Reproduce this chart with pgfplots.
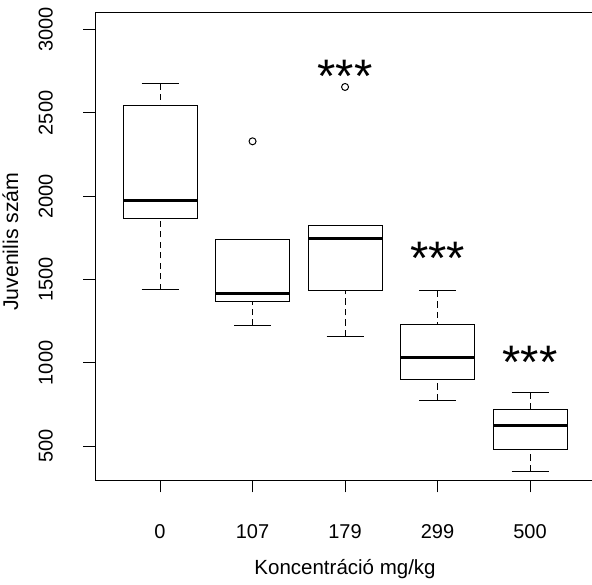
\documentclass[border=0pt]{standalone}
\usepackage{fontspec}
\setmainfont{Liberation Sans}
\usepackage{pgfplots}
\pgfplotsset{compat=1.18}
\usepgfplotslibrary{statistics}

\begin{document}
\begin{tikzpicture}
\begin{axis}[
  at={(95.3bp,104.7bp)}, anchor=south west,
  width=499.5bp, height=468bp, scale only axis,
  xmin=0.3, xmax=5.7, ymin=296, ymax=3104,
  xtick={1,2,3,4,5}, xticklabels={0,107,179,299,500},
  ytick={500,1000,...,3000},
  /pgf/number format/assume math mode=true,
  /pgf/number format/1000 sep={},
  tick label style={font=\fontsize{20bp}{24bp}\selectfont, black},
  label style={font=\fontsize{20.5bp}{24bp}\selectfont},
  xticklabel style={anchor=center, yshift=-39bp},
  yticklabel style={xshift=-37.5bp, rotate=90, anchor=center},
  xlabel={Koncentráció mg/kg},
  ylabel={Juvenilis szám},
  xlabel style={at={(axis description cs:0.5,-0.1895)}, anchor=center},
  ylabel style={at={(axis description cs:-0.1698,0.5098)}, anchor=center,
    font=\fontsize{21.3bp}{24bp}\selectfont},
  axis line style={line width=1bp},
  tick align=outside, major tick length=12bp,
  tick style={black, line width=1bp},
  xtick pos=bottom, ytick pos=left,
  boxplot/draw direction=y,
  boxplot/box extend=0.8,
  % dashed whisker stems with solid end caps
  boxplot/draw/lower whisker/.code={%
    \draw[black, line width=1bp, dash pattern=on 6.3bp off 4.2bp]
      (boxplot box cs:\pgfplotsboxplotvalue{lower whisker},0.5)
      -- (boxplot box cs:\pgfplotsboxplotvalue{lower quartile},0.5);
    \draw[black, line width=1bp]
      (boxplot box cs:\pgfplotsboxplotvalue{lower whisker},0.25)
      -- (boxplot box cs:\pgfplotsboxplotvalue{lower whisker},0.75);
  },
  boxplot/draw/upper whisker/.code={%
    \draw[black, line width=1bp, dash pattern=on 6.3bp off 4.2bp]
      (boxplot box cs:\pgfplotsboxplotvalue{upper whisker},0.5)
      -- (boxplot box cs:\pgfplotsboxplotvalue{upper quartile},0.5);
    \draw[black, line width=1bp]
      (boxplot box cs:\pgfplotsboxplotvalue{upper whisker},0.25)
      -- (boxplot box cs:\pgfplotsboxplotvalue{upper whisker},0.75);
  },
  boxplot/every median/.style={line width=3bp},
  every axis plot/.append style={black, line width=1bp, mark=o,
    mark size=3.5bp, mark options={solid, line width=1bp}},
]
% 0 mg/kg
\addplot[boxplot prepared={draw position=1, lower whisker=1438,
  lower quartile=1864, median=1974, upper quartile=2544,
  upper whisker=2676}] coordinates {};
% 107 mg/kg
\addplot[boxplot prepared={draw position=2, lower whisker=1224,
  lower quartile=1366, median=1414, upper quartile=1738,
  upper whisker=1738}] table[row sep=\\, y index=0] {y\\ 2330\\};
% 179 mg/kg
\addplot[boxplot prepared={draw position=3, lower whisker=1160,
  lower quartile=1432, median=1744, upper quartile=1826,
  upper whisker=1826}] table[row sep=\\, y index=0] {y\\ 2656\\};
% 299 mg/kg
\addplot[boxplot prepared={draw position=4, lower whisker=776,
  lower quartile=900, median=1030, upper quartile=1232,
  upper whisker=1432}] coordinates {};
% 500 mg/kg
\addplot[boxplot prepared={draw position=5, lower whisker=350,
  lower quartile=482, median=626, upper quartile=720,
  upper whisker=822}] coordinates {};

% significance marks
\node[font=\fontsize{47bp}{50bp}\selectfont, anchor=base] at (axis cs:3,2624) {***};
\node[font=\fontsize{47bp}{50bp}\selectfont, anchor=base] at (axis cs:4,1529) {***};
\node[font=\fontsize{47bp}{50bp}\selectfont, anchor=base] at (axis cs:5,904) {***};
\end{axis}
\pgfresetboundingbox
\path[use as bounding box] (0,0) rectangle (592bp,585bp);
\end{tikzpicture}
\end{document}
